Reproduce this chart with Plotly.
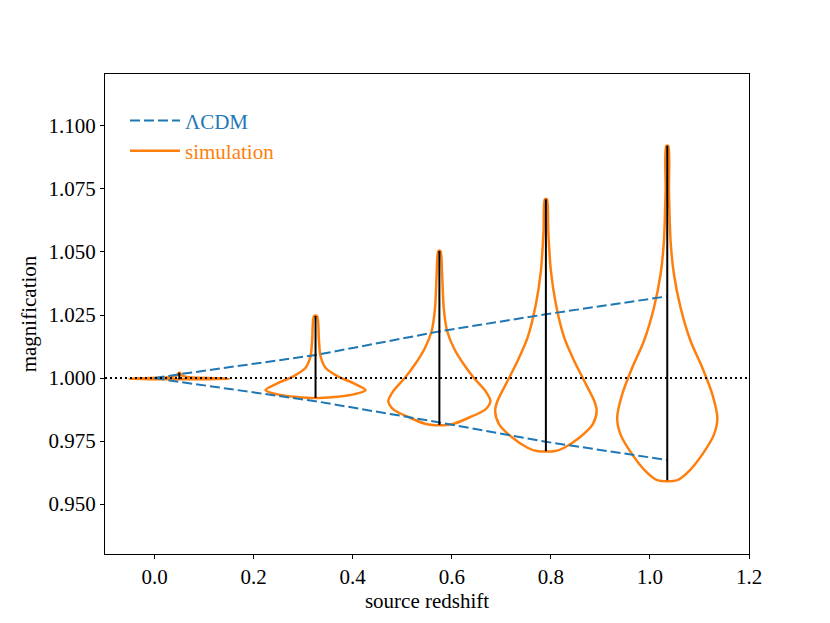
import plotly.graph_objects as go

# redshift of each simulated sample (violin centres)
z_src = [0.05, 0.325, 0.575, 0.79, 1.035]

# LCDM envelope
z_lcdm = [0.0, 0.05, 0.325, 0.575, 0.79, 1.035]
lcdm_hi = [1.0, 1.0015, 1.0091, 1.0185, 1.0253, 1.0324]
lcdm_lo = [1.0, 0.9985, 0.9908, 0.9824, 0.9747, 0.9675]

# extrema of each sample (black bars)
mag_min = [0.9995, 0.9921, 0.9814, 0.9710, 0.9595]
mag_max = [1.0021, 1.0246, 1.0504, 1.0709, 1.0921]

# violin outlines: magnification levels and half widths (in redshift units)
v1_mag = [0.9995, 0.99965, 0.9999, 1.0003, 1.0010, 1.0021]
v1_hw = [0.02, 0.101, 0.08, 0.02, 0.005, 0.001]

v2_mag = [0.99206, 0.99258, 0.99353, 0.99524, 0.99790, 1.00079, 1.00409,
          1.00873, 1.01536, 1.02460]
v2_hw = [0.008, 0.044, 0.077, 0.101, 0.077, 0.044, 0.020, 0.010, 0.0067, 0.003]

v3_mag = [0.98135, 0.98187, 0.98425, 0.98758, 0.99087, 0.99484, 1.00012,
          1.00544, 1.01202, 1.01865, 1.02790, 1.04115, 1.05040]
v3_hw = [0.0142, 0.0289, 0.0593, 0.0930, 0.1031, 0.0930, 0.0694, 0.0491,
         0.0289, 0.0156, 0.0087, 0.0055, 0.002]

v4_mag = [0.97103, 0.97234, 0.97631, 0.98163, 0.98690, 0.99087, 0.99881,
          1.00675, 1.01599, 1.02925, 1.04246, 1.05833, 1.07091]
v4_hw = [0.0188, 0.0370, 0.0673, 0.0944, 0.1025, 0.0977, 0.0775, 0.0572,
         0.0370, 0.0202, 0.0101, 0.0047, 0.002]

v5_mag = [0.95952, 0.96310, 0.96972, 0.97766, 0.98425, 0.99353, 1.00409,
          1.01468, 1.02790, 1.04115, 1.05437, 1.07421, 1.09206]
v5_hw = [0.0202, 0.0439, 0.0708, 0.0944, 0.1011, 0.0910, 0.0708, 0.0471,
         0.0269, 0.0135, 0.0067, 0.0034, 0.002]

violins = [(v1_mag, v1_hw), (v2_mag, v2_hw), (v3_mag, v3_hw),
           (v4_mag, v4_hw), (v5_mag, v5_hw)]

blue = '#1f77b4'
orange = '#ff7f0e'
font = 'Liberation Serif'
fsize = 21

fig = go.Figure()

# violin outlines
for i, (zc, (m, hw)) in enumerate(zip(z_src, violins)):
    xs = [zc + w for w in hw] + [zc - w for w in reversed(hw)] + [zc + hw[0]]
    ys = list(m) + list(reversed(m)) + [m[0]]
    fig.add_trace(go.Scatter(
        x=xs, y=ys, mode='lines',
        line=dict(color=orange, width=2.5, shape='spline', smoothing=0.8),
        name="<span style='color:%s'>simulation</span>" % orange,
        showlegend=(i == 0), legendrank=2, hoverinfo='skip'))

# LCDM dashed envelope
for j, yv in enumerate([lcdm_hi, lcdm_lo]):
    fig.add_trace(go.Scatter(
        x=z_lcdm, y=yv, mode='lines',
        line=dict(color=blue, width=2, dash='10px,4px'),
        name="<span style='color:%s'>ΛCDM</span>" % blue,
        showlegend=(j == 0), legendrank=1))

# min-max bars
for zc, lo, hi in zip(z_src, mag_min, mag_max):
    fig.add_trace(go.Scatter(
        x=[zc, zc], y=[lo, hi], mode='lines',
        line=dict(color='black', width=2), showlegend=False))

fig.add_hline(y=1.0, line=dict(color='black', width=2, dash='2px,3px'))

axis_common = dict(
    showgrid=False, zeroline=False, showline=True, linecolor='black',
    linewidth=1, mirror=True, ticks='outside', ticklen=4, tickcolor='black',
    tickfont=dict(family=font, size=fsize, color='black'))

fig.update_layout(
    width=830, height=623,
    margin=dict(l=97, r=89, t=66, b=77),
    plot_bgcolor='white', paper_bgcolor='white',
    font=dict(family=font, size=fsize, color='black'),
    xaxis=dict(range=[-0.1, 1.2], tickvals=[0, 0.2, 0.4, 0.6, 0.8, 1.0, 1.2],
               ticktext=['0.0', '0.2', '0.4', '0.6', '0.8', '1.0', '1.2'],
               title=dict(text='source redshift', standoff=0,
                          font=dict(family=font, size=fsize)),
               **axis_common),
    yaxis=dict(range=[0.9302, 1.1206],
               tickvals=[0.95, 0.975, 1.0, 1.025, 1.05, 1.075, 1.1],
               ticktext=['0.950', '0.975', '1.000', '1.025', '1.050', '1.075', '1.100'],
               title=dict(text='magnification', standoff=6,
                          font=dict(family=font, size=fsize)),
               **axis_common),
    legend=dict(x=0.031, y=0.945, xanchor='left', yanchor='top',
                bgcolor='rgba(0,0,0,0)', itemwidth=50,
                font=dict(family=font, size=fsize)),
    showlegend=True,
)

fig.write_html("out.html")
